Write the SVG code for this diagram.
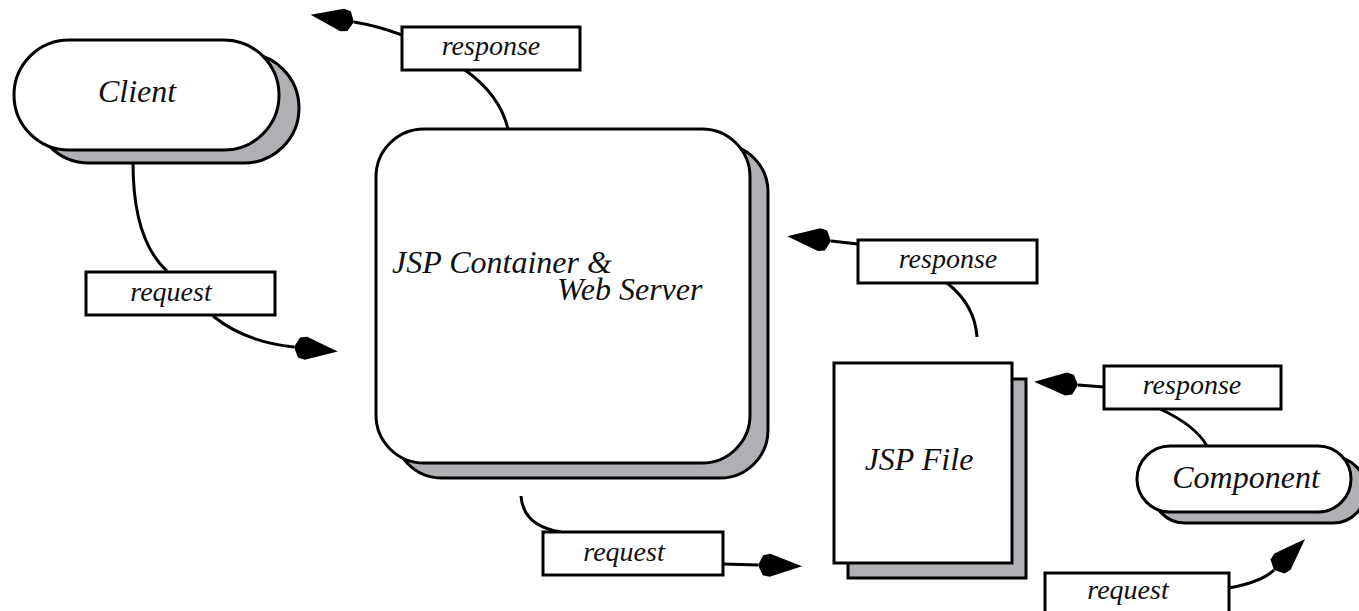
<svg xmlns="http://www.w3.org/2000/svg" width="1359" height="611" viewBox="0 0 1359 611">
  <style>
    .front { fill: #ffffff; stroke: #000000; stroke-width: 3; }
    .shadow { fill: #b1afb4; stroke: #000000; stroke-width: 3; }
    .label { fill: #ffffff; stroke: #000000; stroke-width: 3; }
    .edge { fill: none; stroke: #000000; stroke-width: 3; }
    .arrow { marker-end: url(#head); }
    text { font-family: "Liberation Serif", "Times New Roman", serif; font-style: italic; fill: #111111; }
    .node-text { font-size: 32px; }
    .label-text { font-size: 28px; text-anchor: middle; }
  </style>
  <defs>
    <!-- filled arrowhead; its back sits on the end of the path -->
    <marker id="head" markerUnits="userSpaceOnUse" viewBox="0 -13 46 26" markerWidth="46" markerHeight="26" refX="0" refY="0" orient="auto" overflow="visible">
      <path d="M0,0 L5,-10 L12,-11.5 L44,0 L12,11.5 L5,10 Z" fill="#000000"/>
    </marker>
  </defs>
  <rect width="1359" height="611" fill="#ffffff"/>

  <!-- connectors -->
  <g id="connectors">
    <!-- Client -> request label -> container -->
    <path class="edge" d="M133,163 Q133,240 167,271"/>
    <path class="edge arrow" d="M213,316 Q245,342 294,347"/>
    <!-- container -> response label -> out -->
    <path class="edge" d="M465,70 Q500,95 508,129"/>
    <path class="edge arrow" d="M402,35 Q378,26 354,22"/>
    <!-- container -> request label -> JSP file -->
    <path class="edge" d="M521,496 Q523,526 561,532"/>
    <path class="edge arrow" d="M723,564 L758,565"/>
    <!-- JSP file -> response label -> container -->
    <path class="edge" d="M947,283 Q975,305 977,337"/>
    <path class="edge arrow" d="M858,244 L831,241"/>
    <!-- JSP file -> request label -> component -->
    <path class="edge arrow" d="M1229,588 Q1262,582 1274,570"/>
    <!-- component -> response label -> JSP file -->
    <path class="edge" d="M1160,409 Q1195,425 1207,446"/>
    <path class="edge arrow" d="M1104,387 L1078,385"/>
  </g>

  <!-- nodes -->
  <g id="client">
    <rect class="shadow" x="34" y="53" width="265" height="110" rx="55" ry="55"/>
    <rect class="front" x="14" y="40" width="265" height="110" rx="55" ry="55"/>
    <text class="node-text" x="137" y="102" text-anchor="middle">Client</text>
  </g>

  <g id="container">
    <rect class="shadow" x="394" y="144" width="374" height="334" rx="48" ry="48"/>
    <rect class="front" x="376" y="129" width="374" height="334" rx="48" ry="48"/>
    <text class="node-text" x="392" y="273">JSP Container &amp;</text>
    <text class="node-text" x="557" y="300">Web Server</text>
  </g>

  <g id="jsp-file">
    <rect class="shadow" x="848" y="379" width="178" height="199"/>
    <rect class="front" x="834" y="363" width="178" height="200"/>
    <text class="node-text" x="919" y="470" text-anchor="middle">JSP File</text>
  </g>

  <g id="component">
    <rect class="shadow" x="1152" y="457" width="214" height="66" rx="33" ry="33"/>
    <rect class="front" x="1137" y="446" width="214" height="66" rx="33" ry="33"/>
    <text class="node-text" x="1246" y="488" text-anchor="middle">Component</text>
  </g>

  <!-- edge labels -->
  <g id="label-request-1">
    <rect class="label" x="86" y="272" width="189" height="43"/>
    <text class="label-text" x="171" y="301">request</text>
  </g>
  <g id="label-response-1">
    <rect class="label" x="402" y="27" width="178" height="43"/>
    <text class="label-text" x="491" y="55">response</text>
  </g>
  <g id="label-request-2">
    <rect class="label" x="543" y="532" width="180" height="43"/>
    <text class="label-text" x="624" y="561">request</text>
  </g>
  <g id="label-response-2">
    <rect class="label" x="858" y="240" width="179" height="43"/>
    <text class="label-text" x="948" y="268">response</text>
  </g>
  <g id="label-response-3">
    <rect class="label" x="1104" y="366" width="177" height="43"/>
    <text class="label-text" x="1192" y="394">response</text>
  </g>
  <g id="label-request-3">
    <rect class="label" x="1045" y="573" width="184" height="50"/>
    <text class="label-text" x="1128" y="599">request</text>
  </g>
</svg>
